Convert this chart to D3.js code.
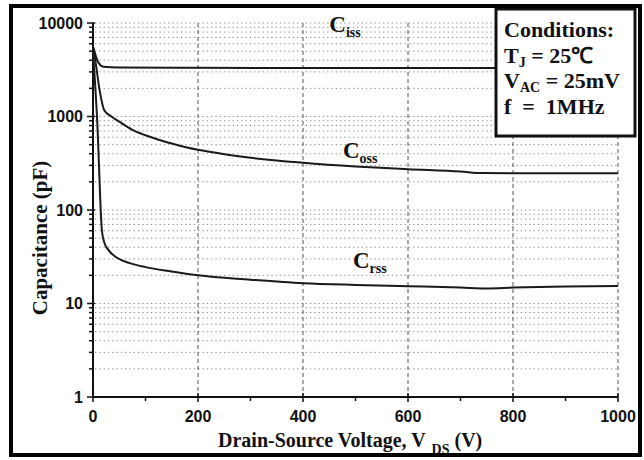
<!DOCTYPE html>
<html>
<head>
<meta charset="utf-8">
<script src="https://cdn.jsdelivr.net/npm/d3@7"></script>
<style>
  body { margin: 0; background: #fff; }
  svg { display: block; }
</style>
</head>
<body>
<div id="chart"></div>
<script>
// capacitance vs drain-source voltage
const cissPts = [[0, 5600], [5, 4500], [10, 3800], [20, 3400], [50, 3350], [200, 3320], [400, 3300], [600, 3300], [800, 3300], [1000, 3300]];
const cossPts = [[0, 5500], [5, 3800], [12, 2000], [22, 1150], [35, 1000], [50, 880], [75, 720], [100, 630], [125, 565], [150, 515], [200, 440], [250, 395], [300, 362], [400, 320], [500, 292], [600, 273], [700, 258], [740, 248], [800, 247], [900, 247], [1000, 247]];
const crssPts = [[0, 5000], [8, 900], [17, 60], [22, 44], [30, 37], [45, 31], [70, 27], [100, 24.5], [150, 22], [200, 20], [300, 18], [400, 16.5], [500, 15.8], [600, 15.3], [700, 14.8], [750, 14.5], [800, 14.8], [900, 15.2], [1000, 15.4]];

const xMajor = [0, 200, 400, 600, 800, 1000];
const xMinor = [100, 300, 500, 700, 900];
const yMajor = [1, 10, 100, 1000, 10000];

const curveLabels = [
    { main: "C", sub: "iss", v: 450, c: 8000 },
    { main: "C", sub: "oss", v: 476, c: 360 },
    { main: "C", sub: "rss", v: 495, c: 24 }
];
const conditions = [
    [["Conditions:", 0]],
    [["T", 0], ["J", 1], ["\u00a0= 25℃", 0]],
    [["V", 0], ["AC", 1], ["\u00a0= 25mV", 0]],
    [["f \u00a0= \u00a01MHz", 0]]
];

const W = 644, H = 460;
const serif = "'Liberation Serif', 'Times New Roman', serif";
const sans = "'Liberation Sans', Arial, sans-serif";

const x = d3.scaleLinear().domain([0, 1000]).range([93, 618]);
const y = d3.scaleLog().domain([1, 10000]).range([397, 23]);

const svg = d3.select("#chart").append("svg")
    .attr("width", W)
    .attr("height", H);

// grid: dotted at every log tick, dashed at major voltages
const yTicks = y.ticks();
svg.append("g")
    .selectAll("line")
    .data(yTicks.filter(d => d > 1))
    .join("line")
    .attr("x1", x(0) + 2).attr("x2", x(1000))
    .attr("y1", d => y(d)).attr("y2", d => y(d))
    .attr("stroke", "#8a8a8a")
    .attr("stroke-width", 1)
    .attr("stroke-dasharray", "1.3,3");

svg.append("g")
    .selectAll("line")
    .data(xMajor.slice(1))
    .join("line")
    .attr("x1", d => x(d)).attr("x2", d => x(d))
    .attr("y1", y(10000)).attr("y2", y(1))
    .attr("stroke", "#555")
    .attr("stroke-width", 1)
    .attr("stroke-dasharray", "4,3");

// axes
const xAxis = svg.append("g").attr("transform", `translate(0,${y(1)})`);
xAxis.append("line")
    .attr("x1", x(0)).attr("x2", x(1000))
    .attr("stroke", "#111").attr("stroke-width", 2);
xAxis.selectAll(".maj")
    .data(xMajor)
    .join("line")
    .attr("x1", d => x(d)).attr("x2", d => x(d))
    .attr("y1", -4).attr("y2", 5)
    .attr("stroke", "#111").attr("stroke-width", 1.5);
xAxis.selectAll(".min")
    .data(xMinor)
    .join("line")
    .attr("x1", d => x(d)).attr("x2", d => x(d))
    .attr("y1", 0).attr("y2", 4)
    .attr("stroke", "#111").attr("stroke-width", 1.5);
xAxis.selectAll("text")
    .data(xMajor)
    .join("text")
    .attr("x", d => x(d))
    .attr("y", 25)
    .attr("text-anchor", "middle")
    .style("font", `bold 16px ${sans}`)
    .attr("fill", "#111")
    .text(d => d);

const yAxis = svg.append("g").attr("transform", `translate(${x(0)},0)`);
yAxis.append("line")
    .attr("y1", y(1)).attr("y2", y(10000))
    .attr("stroke", "#111").attr("stroke-width", 2);
yAxis.selectAll(".tk")
    .data(yTicks)
    .join("line")
    .attr("y1", d => y(d)).attr("y2", d => y(d))
    .attr("x1", d => yMajor.includes(d) ? -6 : -4)
    .attr("x2", d => yMajor.includes(d) ? 2 : 0)
    .attr("stroke", "#111").attr("stroke-width", 1.5);
yAxis.selectAll("text")
    .data(yMajor)
    .join("text")
    .attr("x", -10)
    .attr("y", d => y(d))
    .attr("dy", "0.36em")
    .attr("text-anchor", "end")
    .style("font", `bold 16px ${sans}`)
    .attr("fill", "#111")
    .text(d => d);

// curves
const line = d3.line()
    .x(d => x(d[0]))
    .y(d => y(d[1]))
    .curve(d3.curveMonotoneX);

svg.append("g")
    .selectAll("path")
    .data([cissPts, cossPts, crssPts])
    .join("path")
    .attr("d", line)
    .attr("fill", "none")
    .attr("stroke", "#1a1a1a")
    .attr("stroke-width", 2);

// curve labels
const lab = svg.append("g")
    .selectAll("text")
    .data(curveLabels)
    .join("text")
    .attr("x", d => x(d.v))
    .attr("y", d => y(d.c))
    .attr("fill", "#111")
    .style("font-family", serif)
    .style("font-weight", "bold");
lab.append("tspan").style("font-size", "23px").text(d => d.main);
lab.append("tspan").style("font-size", "14px").attr("dy", 5).text(d => d.sub);

// axis titles
svg.append("text")
    .attr("transform", `translate(47,238) rotate(-90)`)
    .attr("text-anchor", "middle")
    .style("font", `bold 21px ${serif}`)
    .attr("fill", "#111")
    .text("Capacitance (pF)");

const xt = svg.append("text")
    .attr("x", 218)
    .attr("y", 447)
    .style("font", `bold 20px ${serif}`)
    .attr("fill", "#111");
xt.append("tspan").text("Drain-Source Voltage, V");
xt.append("tspan").attr("dx", 6).attr("dy", 7).style("font-size", "14px").text("DS");
xt.append("tspan").attr("dy", -7).text("\u00a0(V)");

// conditions box
svg.append("rect")
    .attr("x", 496).attr("y", 9)
    .attr("width", 139).attr("height", 127)
    .attr("fill", "#fff")
    .attr("stroke", "#111").attr("stroke-width", 3);

const ct = svg.append("g")
    .selectAll("text")
    .data(conditions)
    .join("text")
    .attr("x", 504)
    .attr("y", (d, i) => 37 + i * 25.5)
    .style("font", `bold 22px ${serif}`)
    .attr("fill", "#111");
ct.selectAll("tspan")
    .data(d => d)
    .join("tspan")
    .style("font-size", d => d[1] ? "14px" : null)
    .attr("dy", (d, i, n) => d[1] ? 4 : (i > 0 && n[i - 1].__data__[1] ? -4 : 0))
    .text(d => d[0]);

// outer frame
svg.append("rect")
    .attr("x", 11).attr("y", 6)
    .attr("width", 629).attr("height", 449)
    .attr("fill", "none")
    .attr("stroke", "#000").attr("stroke-width", 4);
</script>
</body>
</html>
